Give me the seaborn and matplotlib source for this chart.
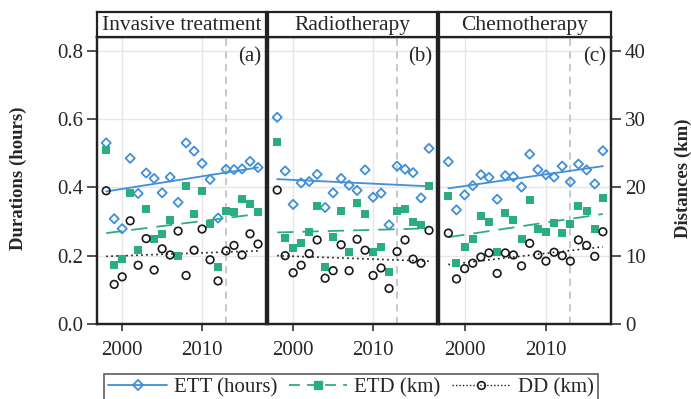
import numpy as np
import pandas as pd
import matplotlib
matplotlib.use('Agg')
import matplotlib.pyplot as plt
from matplotlib.lines import Line2D
import seaborn as sns

# Values
years = list(range(1998, 2018))
panels = ['Invasive treatment', 'Radiotherapy', 'Chemotherapy']
panel_tags = ['(a)', '(b)', '(c)']

ett_invasive = [0.530, 0.308, 0.279, 0.485, 0.382, 0.442, 0.426, 0.384, 0.430, 0.356,
                0.530, 0.506, 0.470, 0.423, 0.310, 0.453, 0.452, 0.454, 0.476, 0.458]
etd_invasive = [25.4, 8.6, 9.5, 19.2, 10.9, 16.8, 12.4, 13.1, 15.2, 10.0,
                20.2, 16.1, 19.4, 14.6, 8.3, 16.6, 16.4, 18.3, 17.5, 16.4]
dd_invasive = [19.5, 5.8, 6.9, 15.1, 8.6, 12.5, 7.9, 11.0, 10.1, 13.6,
               7.1, 10.8, 13.9, 9.4, 6.3, 10.7, 11.5, 10.1, 13.2, 11.7]

ett_radio = [0.605, 0.448, 0.350, 0.413, 0.417, 0.438, 0.341, 0.384, 0.426, 0.406,
             0.391, 0.451, 0.371, 0.383, 0.290, 0.462, 0.453, 0.443, 0.369, 0.514]
etd_radio = [26.7, 12.6, 11.1, 11.8, 13.5, 17.2, 8.4, 12.7, 16.5, 10.6,
             17.7, 16.1, 10.5, 11.2, 7.6, 16.6, 16.9, 15.0, 14.5, 20.2]
dd_radio = [19.6, 10.0, 7.5, 8.6, 10.3, 12.3, 6.7, 7.8, 11.6, 7.8,
            12.4, 10.8, 7.1, 8.2, 5.2, 10.6, 12.3, 9.5, 8.9, 13.7]

ett_chemo = [0.475, 0.334, 0.378, 0.405, 0.437, 0.429, 0.365, 0.434, 0.431, 0.401,
             0.497, 0.452, 0.437, 0.430, 0.462, 0.416, 0.468, 0.451, 0.410, 0.507]
etd_chemo = [18.7, 9.0, 11.3, 12.4, 15.8, 14.9, 10.5, 16.3, 15.2, 12.4,
             18.2, 13.9, 13.5, 14.8, 13.3, 14.6, 17.2, 16.5, 13.9, 18.4]
dd_chemo = [13.3, 6.6, 8.1, 8.9, 9.8, 10.4, 7.4, 10.4, 10.1, 8.5,
            11.8, 10.1, 9.2, 10.5, 10.0, 9.2, 12.3, 11.5, 9.9, 13.5]

# trend lines (value at first and last year)
trend_years = [1998, 2017]
ett_trend = [[0.388, 0.458], [0.424, 0.403], [0.397, 0.462]]
etd_trend = [[13.3, 16.1], [13.4, 14.0], [12.7, 16.1]]
dd_trend = [[9.9, 10.7], [10.0, 9.2], [8.7, 11.3]]

policy_year = 2013

ett_all = [ett_invasive, ett_radio, ett_chemo]
etd_all = [etd_invasive, etd_radio, etd_chemo]
dd_all = [dd_invasive, dd_radio, dd_chemo]

rows = []
for p, ett, etd, dd in zip(panels, ett_all, etd_all, dd_all):
    for y, a, b, c in zip(years, ett, etd, dd):
        rows.append({'panel': p, 'year': y, 'ETT': a, 'ETD': b, 'DD': c})
df = pd.DataFrame(rows)

blue = '#3f8fd9'
green = '#2aad80'
black = '#1a1a1a'

sns.set_style('whitegrid')
plt.rcParams['font.family'] = ['Liberation Serif', 'DejaVu Serif']
plt.rcParams['font.size'] = 15

fig = plt.figure(figsize=(6.91, 3.99), dpi=100)
W, H = 691, 399
lefts = [97, 268, 439]
widths = [169, 169, 172]
bot, top = 324, 37

for i, p in enumerate(panels):
    d = df[df['panel'] == p]
    ax = fig.add_axes([lefts[i] / W, 1 - bot / H, widths[i] / W, (bot - top) / H])
    ax2 = ax.twinx()

    ax.axvline(policy_year, color='#c4c4c4', ls=(0, (4, 3)), lw=1.3, zorder=1)
    sns.lineplot(x=trend_years, y=ett_trend[i], ax=ax, color=blue, lw=1.3)
    sns.scatterplot(data=d, x='year', y='ETT', ax=ax, marker='D', s=22,
                    facecolor='none', edgecolor=blue, linewidth=1.3, zorder=3)

    sns.lineplot(x=trend_years, y=etd_trend[i], ax=ax2, color=green, lw=1.3,
                 dashes=False, ls=(0, (9, 5)))
    sns.scatterplot(data=d, x='year', y='ETD', ax=ax2, marker='s', s=38,
                    color=green, edgecolor=green, linewidth=0, zorder=3)
    sns.lineplot(x=trend_years, y=dd_trend[i], ax=ax2, color=black, lw=1.2,
                 ls=(0, (1, 2)))
    sns.scatterplot(data=d, x='year', y='DD', ax=ax2, marker='o', s=30,
                    facecolor='none', edgecolor=black, linewidth=1.2, zorder=3)

    ax.set_xlim(1996.85, 2018.0)
    ax.set_ylim(0, 0.84)
    ax2.set_ylim(0, 42)
    ax.set_xticks([2000, 2010])
    ax.set_yticks([0.0, 0.2, 0.4, 0.6, 0.8])
    ax.set_yticklabels(['0.0', '0.2', '0.4', '0.6', '0.8'])
    ax2.set_yticks([0, 10, 20, 30, 40])
    ax.grid(True, color='#e6e6e6', lw=1.0)
    ax2.grid(False)
    ax.set_xlabel('')
    ax.set_ylabel('')
    ax2.set_ylabel('')
    for a in (ax, ax2):
        for s in a.spines.values():
            s.set_color('#222222')
            s.set_linewidth(1.6)
    ax.tick_params(axis='x', length=5, width=1.2, color='#333333', pad=7,
                   labelsize=15, bottom=True)
    ax.tick_params(axis='y', length=7, width=1.2, color='#333333', pad=3,
                   labelsize=15, left=(i == 0), labelleft=(i == 0))
    ax2.tick_params(axis='y', length=7, width=1.2, color='#333333', pad=3,
                    labelsize=15, right=(i == 2), labelright=(i == 2))
    ax.text(0.97, 0.965, panel_tags[i], transform=ax.transAxes,
            ha='right', va='top', fontsize=15)

    sax = fig.add_axes([lefts[i] / W, 1 - top / H, widths[i] / W, 25 / H])
    sax.set_xticks([])
    sax.set_yticks([])
    sax.grid(False)
    sax.set_facecolor('white')
    for s in sax.spines.values():
        s.set_color('#222222')
        s.set_linewidth(1.6)
    sax.text(0.5, 0.45, p, ha='center', va='center', fontsize=15.5,
             transform=sax.transAxes)

fig.text(18 / W, 1 - 178 / H, 'Durations (hours)', rotation=90, ha='center',
         va='center', fontsize=13.5, fontweight='bold')
fig.text(683 / W, 1 - 178 / H, 'Distances (km)', rotation=90, ha='center',
         va='center', fontsize=13.5, fontweight='bold')

handles = [
    Line2D([], [], color=blue, lw=1.3, marker='D', markersize=5,
           markerfacecolor='none', markeredgecolor=blue, markeredgewidth=1.3),
    Line2D([], [], color=green, lw=1.3, ls=(0, (6, 4)), marker='s', markersize=6,
           markerfacecolor=green, markeredgecolor=green),
    Line2D([], [], color=black, lw=1.0, ls=(0, (1, 1.5)), marker='o', markersize=5.5,
           markerfacecolor='none', markeredgecolor=black, markeredgewidth=1.2),
]
leg = fig.legend(handles, ['ETT (hours)', 'ETD (km)', 'DD (km)'], loc='center',
                 bbox_to_anchor=(351 / W, 1 - 388 / H), ncol=3, frameon=True,
                 fancybox=False, edgecolor='#333333', fontsize=15,
                 handlelength=2.8, columnspacing=0.55, handletextpad=0.35,
                 borderpad=0.2, borderaxespad=0)
leg.get_frame().set_linewidth(1.2)

fig.savefig('out.png', dpi=100)
